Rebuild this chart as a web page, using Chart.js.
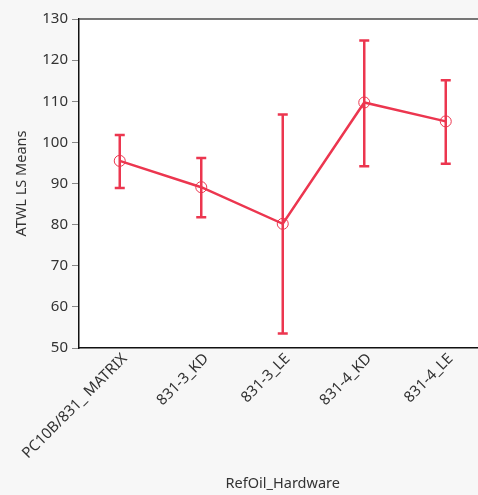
<!DOCTYPE html>
<html>
<head>
<meta charset="utf-8">
<script src="https://cdn.jsdelivr.net/npm/chart.js@4/dist/chart.umd.min.js"></script>
<style>
  html, body { margin: 0; padding: 0; background: #f7f7f7; overflow: hidden; }
  #wrap { width: 478px; height: 495px; overflow: hidden; }
  canvas { display: block; }
</style>
</head>
<body>
<div id="wrap"><canvas id="c" width="493" height="495"></canvas></div>
<script>
const categories = ['PC10B/831_ MATRIX', '831-3_KD', '831-3_LE', '831-4_KD', '831-4_LE'];
const means = [95.5, 89.1, 80.2, 109.7, 105.1];
const upper = [101.8, 96.2, 106.8, 124.8, 115.1];
const lower = [88.9, 81.8, 53.5, 94.2, 94.8];
const yTicks = [50, 60, 70, 80, 90, 100, 110, 120, 130];

const RED = '#ec364f';
const TEXT = '#333333';
const FONT = "'Noto Sans', 'Open Sans', sans-serif";

const plotBg = {
  id: 'plotBg',
  beforeDraw(chart) {
    const {ctx, chartArea: a} = chart;
    ctx.save();
    ctx.fillStyle = '#ffffff';
    ctx.fillRect(a.left, a.top, a.right - a.left, a.bottom - a.top);
    ctx.restore();
  },
  afterDraw(chart) {
    const {ctx, chartArea: a} = chart;
    ctx.save();
    ctx.strokeStyle = '#4a4a4a';
    ctx.lineWidth = 1.5;
    ctx.beginPath();
    ctx.moveTo(a.left, a.top);
    ctx.lineTo(chart.width, a.top);
    ctx.stroke();
    ctx.restore();
  }
};

const errorBars = {
  id: 'errorBars',
  afterDatasetsDraw(chart) {
    const {ctx} = chart;
    const xs = chart.scales.x, ys = chart.scales.y;
    ctx.save();
    ctx.strokeStyle = RED;
    ctx.lineWidth = 2.5;
    const cap = 5;
    categories.forEach((c, i) => {
      const x = xs.getPixelForValue(i);
      const yt = ys.getPixelForValue(upper[i]);
      const yb = ys.getPixelForValue(lower[i]);
      ctx.beginPath();
      ctx.moveTo(x, yt); ctx.lineTo(x, yb);
      ctx.moveTo(x - cap, yt); ctx.lineTo(x + cap, yt);
      ctx.moveTo(x - cap, yb); ctx.lineTo(x + cap, yb);
      ctx.stroke();
    });
    ctx.restore();
  }
};

new Chart(document.getElementById('c'), {
  type: 'line',
  data: {
    labels: categories,
    datasets: [{
      data: means,
      borderColor: RED,
      borderWidth: 2.5,
      pointRadius: 5.5,
      pointBorderWidth: 1,
      pointBorderColor: RED,
      pointBackgroundColor: 'rgba(0,0,0,0)',
      tension: 0
    }]
  },
  options: {
    responsive: false,
    animation: false,
    events: [],
    layout: { padding: { left: 4, right: 0, top: 19, bottom: 2 } },
    plugins: { legend: { display: false }, tooltip: { enabled: false } },
    scales: {
      x: {
        type: 'category',
        offset: true,
        grid: { display: true, drawOnChartArea: false, drawTicks: false },
        border: { display: true, color: '#111111', width: 1.5 },
        ticks: {
          autoSkip: false,
          minRotation: 45, maxRotation: 45,
          padding: 2,
          labelOffset: 5,
          color: TEXT,
          font: { family: FONT, size: 15 }
        },
        title: {
          display: true, text: 'RefOil_Hardware', color: TEXT,
          font: { family: FONT, size: 14.5 },
          padding: { top: 4, bottom: 0 }
        },
        afterFit(scale) { scale.height = 145; }
      },
      y: {
        min: 50, max: 130,
        afterBuildTicks(scale) { scale.ticks = yTicks.map(v => ({ value: v })); },
        grid: { display: true, drawOnChartArea: false, drawTicks: true, tickLength: 7, color: '#888888', lineWidth: 1 },
        border: { display: true, color: '#111111', width: 1.5 },
        ticks: {
          padding: 4,
          color: TEXT,
          font: { family: FONT, size: 15 }
        },
        title: {
          display: true, text: 'ATWL LS Means', color: TEXT,
          font: { family: FONT, size: 14.5 },
          padding: { top: 9, bottom: 3 }
        },
        afterFit(scale) { scale.width = 75; }
      }
    }
  },
  plugins: [plotBg, errorBars]
});
</script>
</body>
</html>
